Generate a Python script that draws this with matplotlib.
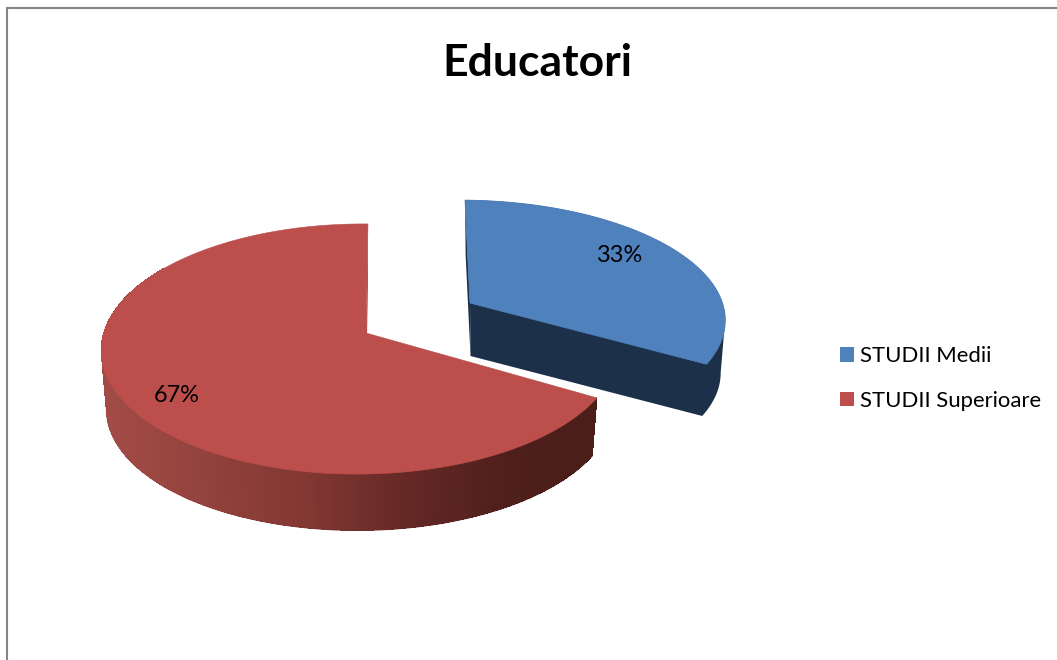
import numpy as np
import matplotlib
matplotlib.use('Agg')
import matplotlib.pyplot as plt
from matplotlib.collections import PolyCollection, LineCollection
from matplotlib.colors import LinearSegmentedColormap
from matplotlib.patches import Polygon, Patch

# Datos del grafico
categorias = ['STUDII Medii', 'STUDII Superioare']
valores = [33.4, 66.6]
titulo = 'Educatori'

plt.rcParams['font.family'] = ['Lato', 'DejaVu Sans']

fig = plt.figure(figsize=(10.57, 6.6), dpi=100)
ax = fig.add_axes([0, 0, 1, 1])
ax.set_xlim(0, 1057)
ax.set_ylim(660, 0)
ax.axis('off')

# Marco gris (solo arriba e izquierda)
ax.plot([7, 7, 1057], [660, 8, 8], color='#868686', lw=1.5, solid_joinstyle='miter')

# Perspectiva del disco
k = 0.128
m = 0.022


def proyectar(phi, cx, cy, rx, ry, corte, escala=1.0):
    u = np.sin(phi)
    v = np.cos(phi)
    w = 1 + k * v + m * u
    x = cx + escala * (rx * u / w + corte * v / w)
    y = cy - escala * ry * v / w
    return x, y


def arco(a, b, cx, cy, rx, ry, corte, escala=1.0, n=200):
    phi = np.linspace(a, b, n)
    x, y = proyectar(phi, cx, cy, rx, ry, corte, escala)
    return np.column_stack([x, y])


# Angulos a partir de los valores (horario desde arriba)
fin_azul = 2 * np.pi * valores[0] / sum(valores)

# --- porcion roja ---
cx, cy, rx, ry, corte = 366, 333, 256.5, 123, 2.2
alto, esc = 59, 0.98
sup = arco(fin_azul, 5.3, cx, cy, rx, ry, corte, n=500)
inf = arco(fin_azul, 5.3, cx, cy + alto, rx, ry, corte, esc, n=500)
tiras = [[sup[i], sup[i + 1], inf[i + 1], inf[i]] for i in range(len(sup) - 1)]
xm = np.array([t[2][0] for t in tiras])
mapa = LinearSegmentedColormap.from_list('lado', [(0, '#A34C47'), (0.4, '#833833'),
                                                  (0.62, '#632825'), (0.82, '#4E1F1B'), (1, '#4A1E1A')])
col = mapa((xm - 105) / (597 - 105))
# sin antialias entre tiras para que no salgan rayas; el borde se suaviza con una linea
ax.add_collection(PolyCollection(tiras, facecolors=col, edgecolors='none', antialiaseds=False, zorder=2))
segs = [[inf[i], inf[i + 1]] for i in range(len(inf) - 1)]
ax.add_collection(LineCollection(segs, colors=col, linewidths=0.9, zorder=2))
xs, ys = proyectar(0.0, cx, cy, rx, ry, corte)
xi, yi = proyectar(0.0, cx, cy + alto, rx, ry, corte, esc)
ax.add_patch(Polygon([(xs, ys), (xi, yi), (cx, cy + alto), (cx, cy)], fc='#A0443F', ec='none', zorder=2))
cara = arco(fin_azul, 2 * np.pi, cx, cy, rx, ry, corte, n=400)
ax.add_patch(Polygon(np.vstack([[cx, cy], cara]), fc='#BC4F4B', ec='#BC4F4B', lw=0.4, zorder=3))

# --- porcion azul ---
cx, cy, rx, ry, corte = 470, 303, 258, 116, -5.6
alto, dx, esc = 53, 0.5, 0.98
oscuro = '#1D3049'
sup = arco(0, fin_azul, cx, cy, rx, ry, corte)
inf = arco(0, fin_azul, cx + dx, cy + alto, rx, ry, corte, esc)
# lateral y corte en un solo poligono, asi no queda costura
giro = np.argmax(sup[:, 0])
lado = np.vstack([sup[:giro], inf[giro:], [(cx + dx, cy + alto)], [(cx, cy)]])
ax.add_patch(Polygon(lado, fc=oscuro, ec='none', zorder=4))
ax.add_patch(Polygon([sup[0], inf[0], (cx + dx, cy + alto), (cx, cy)], fc=oscuro, ec='none', zorder=4))
ax.add_patch(Polygon(np.vstack([[cx, cy], sup]), fc='#4F81BD', ec='#4F81BD', lw=0.6, zorder=5))

# Textos
ax.text(537, 63, titulo, fontsize=32, fontweight='bold', ha='center', va='center', color='black', zorder=6)
ax.text(619, 255, f'{valores[0]:.0f}%', fontsize=16.9, ha='center', va='center', color='black', zorder=6)
ax.text(177, 395, f'{valores[1]:.0f}%', fontsize=16.9, ha='center', va='center', color='black', zorder=6)

# Leyenda
manijas = [Patch(fc='#4F81BD', ec='none'), Patch(fc='#BC4F4B', ec='none')]
ax.legend(manijas, categorias, loc='upper left', bbox_to_anchor=(840 / 1057, 1 - 346 / 660),
          frameon=False, fontsize=15.9, handlelength=0.64, handleheight=0.64, handletextpad=0.27,
          labelspacing=1.12, borderpad=0, borderaxespad=0)

fig.savefig('out.png', dpi=100)
